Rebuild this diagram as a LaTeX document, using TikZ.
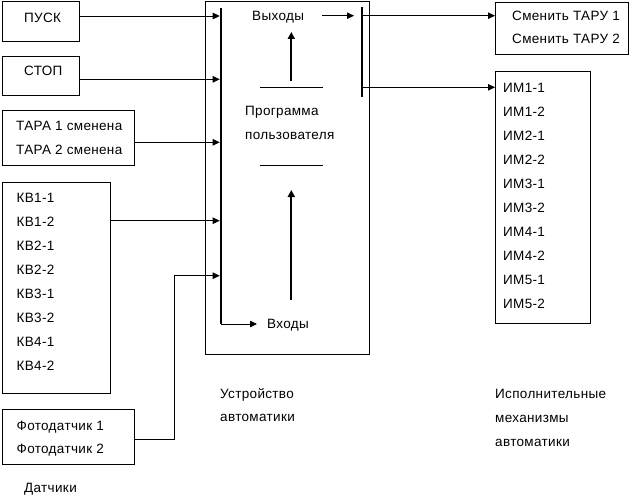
\documentclass[tikz,border=0pt]{standalone}
\usepackage{fontspec}
\setmainfont[LetterSpace=2.5]{Liberation Sans}
\usetikzlibrary{arrows.meta, positioning, calc}

\begin{document}
\begin{tikzpicture}[x=1pt, y=-1pt,
  box/.style={draw, line width=0.8pt, anchor=north west, inner sep=0pt},
  lbl/.style={anchor=base west, inner sep=0pt, font=\fontsize{13.5}{15}\selectfont},
  sig/.style={line width=0.8pt, -{Triangle[length=7pt, width=6.5pt]}},
  wire/.style={line width=0.8pt},
  bus/.style={line width=2.6pt},
  flow/.style={line width=2pt, -{Triangle[length=7pt, width=7pt]}},
]
\useasboundingbox (0,0) rectangle (629,503);

% sensors
\node[box, minimum width=77.5pt, minimum height=39.5pt] (pusk) at (1.5,1.5) {};
\node[box, minimum width=77.5pt, minimum height=39pt] (stop) at (1.5,56) {};
\node[box, minimum width=132.5pt, minimum height=55pt] (tara) at (1.5,110) {};
\node[box, minimum width=108pt, minimum height=211pt] (kv) at (2,182) {};
\node[box, minimum width=132pt, minimum height=55pt] (foto) at (2,409) {};

\node[lbl] at (24,23) {ПУСК};
\node[lbl] at (24,76) {СТОП};
\node[lbl] at (16,130) {ТАРА 1 сменена};
\node[lbl] at (16,154) {ТАРА 2 сменена};
\foreach \t [count=\i from 0] in {КВ1-1,КВ1-2,КВ2-1,КВ2-2,КВ3-1,КВ3-2,КВ4-1,КВ4-2}
  \node[lbl] at (16.5,202+24*\i) {\t};
\node[lbl] at (16.5,430.5) {Фотодатчик 1};
\node[lbl] at (16.5,453.5) {Фотодатчик 2};
\node[lbl] (sensors) at (24,492.5) {Датчики};

% controller
\node[box, minimum width=164pt, minimum height=352.5pt] (plc) at (205,1) {};
\coordinate (inbus) at (221,8);
\coordinate (inbusend) at (221,324);
\coordinate (outbus) at (362,7.5);
\coordinate (outbusend) at (362,97);
\draw[bus] (inbus) -- (inbusend);
\draw[bus] (outbus) -- (outbusend);

\node[lbl] (vyhody) at (252,21) {Выходы};
\node[lbl] (vhody) at (267,328) {Входы};
\node[lbl] at (245,115.5) {Программа};
\node[lbl] at (245,139.5) {пользователя};
\draw[wire] (260,87.3) -- (323,87.3);
\draw[wire] (260,165) -- (323,165);

\coordinate (upA0) at (291.3,81);
\coordinate (upA1) at (291.3,32);
\coordinate (upB0) at (291.3,300);
\coordinate (upB1) at (291.3,190);
\draw[flow] (upA0) -- (upA1);
\draw[flow] (upB0) -- (upB1);

\node[lbl] at (220,398) {Устройство};
\node[lbl] at (220,421.5) {автоматики};

% inputs to the bus
\coordinate (puskO) at (79,16);
\coordinate (stopO) at (79,79.3);
\coordinate (taraO) at (134,142.3);
\coordinate (kvO) at (110,220.7);
\coordinate (fotoO) at (134,439.3);
\draw[sig, shorten >=1.3pt] (puskO) -- (puskO -| inbus);
\draw[sig, shorten >=1.3pt] (stopO) -- (stopO -| inbus);
\draw[sig, shorten >=1.3pt] (taraO) -- (taraO -| inbus);
\draw[sig, shorten >=1.3pt] (kvO) -- (kvO -| inbus);
\draw[sig, shorten >=1.3pt] (fotoO) -- (174,439.3) -- (174,275.7) -- (221,275.7);
\draw[sig, shorten >=10pt] (inbusend) -- (inbusend -| vhody.west);
\coordinate (vyhO) at (322.3,15.7);
\draw[sig, shorten >=8pt] (vyhO) -- (vyhO -| outbus);

% actuators
\node[box, minimum width=133pt, minimum height=52pt] (smena) at (495,2) {};
\node[box, minimum width=94.5pt, minimum height=251.5pt] (im) at (495,71) {};
\node[lbl] at (512,20.5) {Сменить ТАРУ 1};
\node[lbl] at (512,44) {Сменить ТАРУ 2};
\foreach \t [count=\i from 0] in {ИМ1-1,ИМ1-2,ИМ2-1,ИМ2-2,ИМ3-1,ИМ3-2,ИМ4-1,ИМ4-2,ИМ5-1,ИМ5-2}
  \node[lbl] at (503,92.3+24*\i) {\t};
\node[lbl] at (495,398.3) {Исполнительные};
\node[lbl] at (495,422.5) {механизмы};
\node[lbl] at (495,446.7) {автоматики};

\coordinate (smenaI) at (362,15.7);
\coordinate (imI) at (362,87.3);
\draw[sig] (smenaI) -- (smenaI -| smena.west);
\draw[sig] (imI) -- (imI -| im.west);
\end{tikzpicture}
\end{document}
